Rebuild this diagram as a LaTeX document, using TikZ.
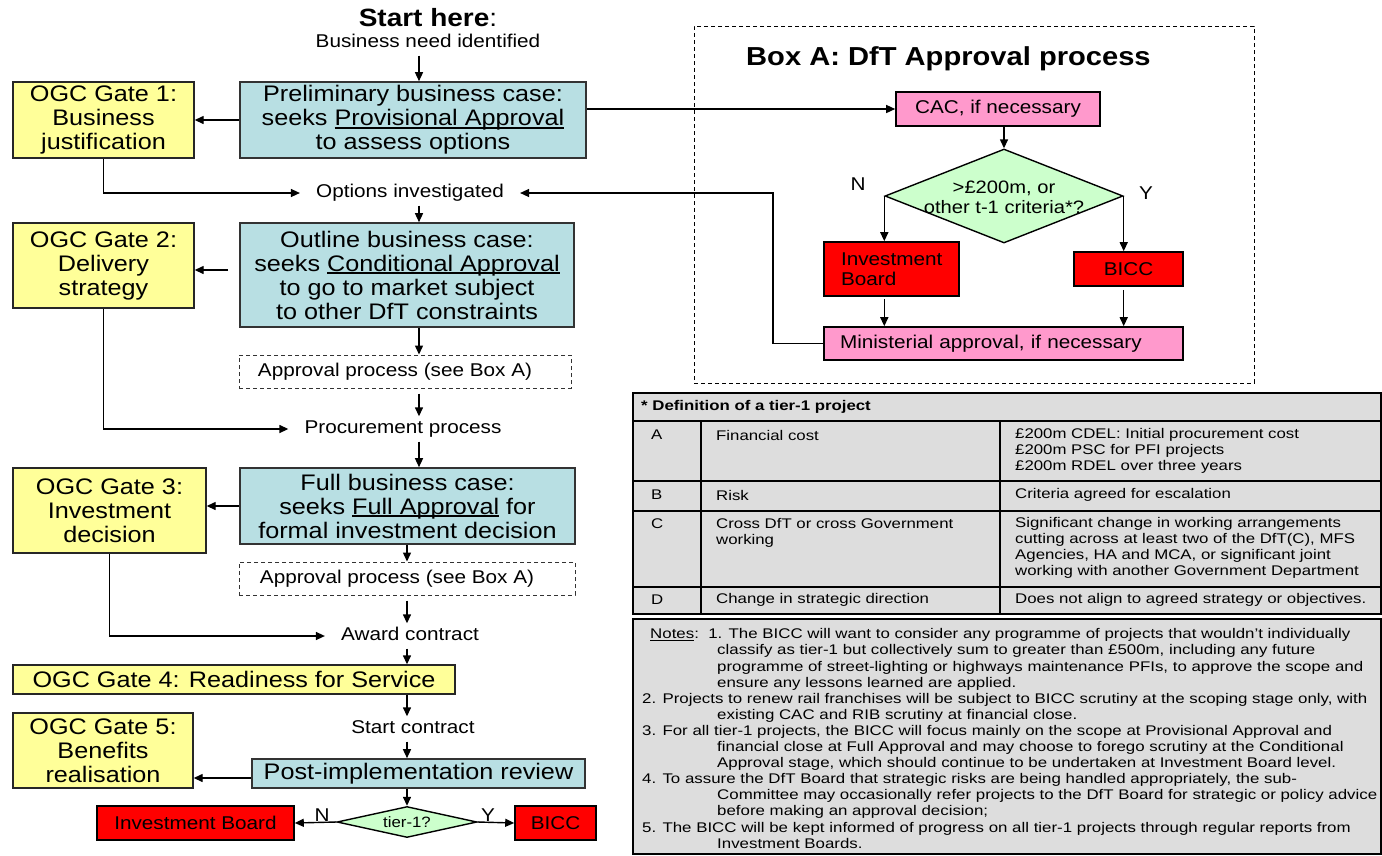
\documentclass[tikz,border=0pt]{standalone}
\usepackage{fontspec}
\setmainfont{Liberation Sans}[FakeStretch=1.12]
\newfontfamily\tabfont{Liberation Sans}[FakeStretch=1.2]
\newfontfamily\notefont{Liberation Sans}[FakeStretch=1.205]
\usetikzlibrary{arrows.meta,shapes.geometric,calc}
\definecolor{gateY}{HTML}{FFFF99}
\definecolor{caseB}{HTML}{B8DFE3}
\definecolor{pinkC}{HTML}{FF99CC}
\definecolor{redC}{HTML}{FF0000}
\definecolor{greenC}{HTML}{CCFFCC}
\definecolor{tabgray}{HTML}{DDDDDD}
\newcommand\bigf{\fontsize{22.5}{24}\selectfont}
\newcommand\smf{\fontsize{18.5}{20}\selectfont}
\newcommand\tabsm{\tabfont\fontsize{14}{16}\selectfont}
\newcommand\thickul[1]{\setbox0\hbox{#1}\rlap{\rule[-3pt]{\wd0}{1.6pt}}\box0\relax}
\begin{document}
\begin{tikzpicture}[x=1pt,y=-1pt,
  arr/.style={line width=1.4pt,-{Triangle[length=9pt,width=8pt]}},
  gate/.style={draw=black!85,line width=1.4pt,fill=gateY,align=center,font=\bigf,inner sep=0pt},
  case/.style={draw=black!80,line width=1.6pt,fill=caseB,align=center,font=\bigf,inner sep=0pt},
  apbox/.style={draw=black!80,dash pattern=on 4pt off 3pt,line width=1pt,font=\smf,inner sep=0pt},
  lbl/.style={font=\smf,inner xsep=16pt,inner ysep=4pt,text height=13pt,text depth=4pt},
  redbox/.style={draw=black,line width=1.6pt,fill=redC,font=\smf,inner sep=0pt},
  pinkbox/.style={draw=black,line width=1.6pt,fill=pinkC,font=\smf,inner sep=0pt},
  dia/.style={diamond,draw=black,line width=1.4pt,fill=greenC,inner sep=0pt},
  yn/.style={font=\smf,inner sep=0pt},
  cell/.style={font=\tabsm,anchor=west,align=left,inner sep=0pt},
]
\useasboundingbox (0,0) rectangle (1382,855);
\fill[white] (0,0) rectangle (1382,855);

% ---------- left flow ----------
\node[font=\fontsize{25}{28}\selectfont,inner sep=0pt] (starthere) at (428,18) {\textbf{Start here}:};
\node[lbl] (bizneed) at (428,43) {Business need identified};
\node[gate,minimum width=181,minimum height=76] (g1) at (103.5,120) {OGC Gate 1:\\Business\\justification};
\node[case,minimum width=346,minimum height=76] (prelim) at (413,120) {Preliminary business case:\\seeks \thickul{Provisional Approval}\\to assess options};
\node[lbl] (opts) at (410,193) {Options investigated};
\node[gate,minimum width=181,minimum height=85] (g2) at (103.5,265.5) {OGC Gate 2:\\Delivery\\strategy};
\node[case,minimum width=334,minimum height=104] (outline) at (407,275) {Outline business case:\\seeks \thickul{Conditional Approval}\\to go to market subject\\to other DfT constraints};
\node[apbox,minimum width=332,minimum height=33] (appr1) at (405,371.5) {Approval process (see Box A)\hspace*{20pt}};
\node[lbl] (proc) at (403,429) {Procurement process};
\node[gate,minimum width=193,minimum height=85] (g3) at (109.5,510.5) {OGC Gate 3:\\Investment\\decision};
\node[case,minimum width=335,minimum height=76] (full) at (407.5,506) {Full business case:\\seeks \thickul{Full Approval} for\\formal investment decision};
\node[apbox,minimum width=336,minimum height=33] (appr2) at (407,578.5) {Approval process (see Box A)\hspace*{20pt}};
\node[lbl] (award) at (410,636) {Award contract};
\node[gate,minimum width=442,minimum height=29] (g4) at (234,679.5) {OGC Gate 4: Readiness for Service};
\node[lbl] (startc) at (413,729) {Start contract};
\node[gate,minimum width=180,minimum height=75] (g5) at (103,750.5) {OGC Gate 5:\\Benefits\\realisation};
\node[case,minimum width=333,minimum height=29] (post) at (418.5,773.5) {Post-implementation review};
\node[dia,minimum width=140,minimum height=31] (dB) at (407,822) {};
\node[font=\fontsize{15}{17}\selectfont,inner sep=0pt] (dBt) at (407,822) {tier-1?};
\node[redbox,minimum width=197,minimum height=34] (ibB) at (195.5,823) {Investment Board};
\node[redbox,minimum width=81,minimum height=34] (biccB) at (555.5,823) {BICC};
\node[yn] (nB) at (322,815) {N};
\node[yn] (yB) at (488,815) {Y};

% ---------- Box A ----------
\node[draw,line width=1pt,dash pattern=on 4pt off 3pt,minimum width=560,minimum height=357,inner sep=0pt] (boxA) at (974,204.5) {};
\node[font=\fontsize{26}{28}\selectfont\bfseries,anchor=west,inner sep=0pt] (titleA) at (746,59) {Box A: DfT Approval process};
\node[pinkbox,minimum width=204,minimum height=34] (cac) at (998,109) {CAC, if necessary};
\node[dia,minimum width=238,minimum height=94] (dA) at (1004,196) {};
\node[font=\fontsize{18}{20}\selectfont,align=center,inner sep=0pt] (dAt) at (1004,197) {>£200m, or\\other t-1 criteria*?};
\node[redbox,minimum width=135,minimum height=54,text width=101pt,align=left,inner xsep=17pt] (ibA) at (891.5,269) {Investment\\Board};
\node[redbox,minimum width=109,minimum height=34] (biccA) at (1128.5,269) {BICC};
\node[pinkbox,minimum width=359,minimum height=33,text width=327pt,align=left,inner xsep=16pt] (minA) at (1003.5,343.5) {Ministerial approval, if necessary};
\node[yn] (nA) at (858,184) {N};
\node[yn] (yA) at (1146,193) {Y};

% ---------- connectors ----------
\coordinate (xa) at (419,0);
\coordinate (xb) at (407,0);
\coordinate (jx) at (773,193);
\coordinate (y2) at (0,270);
\coordinate (y5) at (0,778);
\draw[arr] (bizneed.south -| xa) -- (prelim.north -| xa);
\draw[arr] (prelim.west) -- (g1.east);
\draw[arr] (prelim.east |- cac.west) -- (cac.west);
\draw[arr] (g1.south) |- (opts.west);
\draw[arr] (minA.west) -| (jx) -- (opts.east);
\draw[arr] (opts.south -| xa) -- (outline.north -| xa);
\draw[arr,shorten <=11pt] (outline.west |- y2) -- (g2.east |- y2);
\draw[arr] (outline.south -| xa) -- (appr1.north -| xa);
\draw[arr,shorten <=5pt] (appr1.south -| xa) -- (proc.north -| xa);
\draw[arr] (g2.south) |- (proc.west);
\draw[arr] (proc.south -| xa) -- (full.north -| xa);
\draw[arr] (full.west) -- (full.west -| g3.east);
\draw[arr] (full.south -| xb) -- (appr2.north -| xb);
\draw[arr,shorten <=5pt] (appr2.south -| xb) -- (award.north -| xb);
\draw[arr] (g3.south) |- (award.west);
\draw[arr] (award.south -| xb) -- (g4.north -| xb);
\draw[arr] (g4.south -| xb) -- (startc.north -| xb);
\draw[arr] (startc.south -| xb) -- (post.north -| xb);
\draw[arr] (post.west |- y5) -- (g5.east |- y5);
\draw[arr] (post.south -| xb) -- (dB.north);
\draw[arr] (dB.west) -- (ibB.east);
\draw[arr] (dB.east) -- (biccB.west);
\draw[arr] (cac.south -| dA.north) -- (dA.north);
\draw[arr] (dA.west) -- (dA.west |- ibA.north);
\draw[arr] (dA.east) -- (dA.east |- biccA.north);
\draw[arr,shorten <=2pt] (ibA.south -| dA.west) -- (minA.north -| dA.west);
\draw[arr,shorten <=3pt] (biccA.south -| dA.east) -- (minA.north -| dA.east);

% ---------- table ----------
\fill[tabgray] (633,393) rectangle (1381,614);
\draw[line width=1.5pt] (633,421) -- (1381,421) (633,481) -- (1381,481) (633,511) -- (1381,511) (633,587) -- (1381,587);
\draw[line width=1.5pt] (701,421) -- (701,614) (1000,421) -- (1000,614);
\draw[line width=2.4pt] (633,393) rectangle (1381,614);
\node[cell,font=\tabfont\fontsize{14}{16}\selectfont\bfseries] (ttitle) at (641,407) {* Definition of a tier-1 project};
\node[cell] (ra1) at (651,435) {A};
\node[cell] (ra2) at (716,435) {Financial cost};
\node[cell] (ra3) at (1015,451) {£200m CDEL: Initial procurement cost\\£200m PSC for PFI projects\\£200m RDEL over three years};
\node[cell] (rb1) at (651,495) {B};
\node[cell] (rb2) at (716,495) {Risk};
\node[cell] (rb3) at (1015,495) {Criteria agreed for escalation};
\node[cell] (rc1) at (651,524) {C};
\node[cell] (rc2) at (716,532.5) {Cross DfT or cross Government\\working};
\node[cell] (rc3) at (1015,548) {Significant change in working arrangements\\cutting across at least two of the DfT(C), MFS\\Agencies, HA and MCA, or significant joint\\working with another Government Department};
\node[cell] (rd1) at (651,600) {D};
\node[cell] (rd2) at (716,600) {Change in strategic direction};
\node[cell] (rd3) at (1015,600) {Does not align to agreed strategy or objectives.};

% ---------- notes ----------
\filldraw[fill=tabgray,line width=2.4pt] (633,619) rectangle (1381,854);
\node[cell,font=\notefont\fontsize{14}{16.1}\selectfont] (notes) at (642,738.5) {%
\hspace*{8pt}\underline{Notes}:\ \ 1. The BICC will want to consider any programme of projects that wouldn’t individually\\
\hspace*{75pt}classify as tier-1 but collectively sum to greater than £500m, including any future\\
\hspace*{75pt}programme of street-lighting or highways maintenance PFIs, to approve the scope and\\
\hspace*{75pt}ensure any lessons learned are applied.\\
2. Projects to renew rail franchises will be subject to BICC scrutiny at the scoping stage only, with\\
\hspace*{75pt}existing CAC and RIB scrutiny at financial close.\\
3. For all tier-1 projects, the BICC will focus mainly on the scope at Provisional Approval and\\
\hspace*{75pt}financial close at Full Approval and may choose to forego scrutiny at the Conditional\\
\hspace*{75pt}Approval stage, which should continue to be undertaken at Investment Board level.\\
4. To assure the DfT Board that strategic risks are being handled appropriately, the sub-\\
\hspace*{75pt}Committee may occasionally refer projects to the DfT Board for strategic or policy advice\\
\hspace*{75pt}before making an approval decision;\\
5. The BICC will be kept informed of progress on all tier-1 projects through regular reports from\\
\hspace*{75pt}Investment Boards.};
\end{tikzpicture}
\end{document}
